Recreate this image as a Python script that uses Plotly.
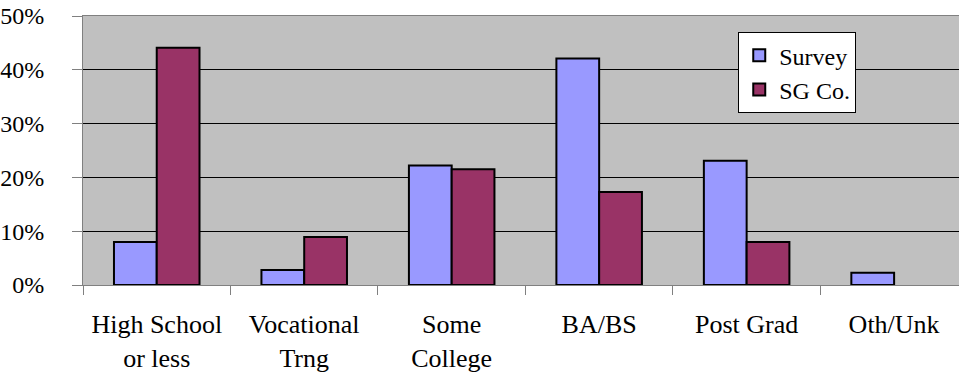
import plotly.graph_objects as go

categories = ["High School<br>or less", "Vocational<br>Trng", "Some<br>College",
              "BA/BS", "Post Grad", "Oth/Unk"]
survey = [8.0, 2.8, 22.2, 42.1, 23.1, 2.3]
sg_co = [44.1, 8.9, 21.5, 17.3, 8.0, 0.0]

serif = '"Liberation Serif", "Times New Roman", Times, serif'

# zero-height bars get no outline
survey_outline = [2 if v > 0 else 0 for v in survey]
sg_outline = [2 if v > 0 else 0 for v in sg_co]

fig = go.Figure()
fig.add_trace(go.Bar(
    name="Survey", x=categories, y=survey,
    marker=dict(color="#9999FF", line=dict(color="black", width=survey_outline)),
))
fig.add_trace(go.Bar(
    name="SG Co.", x=categories, y=sg_co,
    marker=dict(color="#993366", line=dict(color="black", width=sg_outline)),
))

fig.update_layout(
    width=959, height=375,
    margin=dict(l=80, r=0, t=16, b=90),
    paper_bgcolor="white",
    plot_bgcolor="#C0C0C0",
    barmode="group",
    bargap=0.42,
    bargroupgap=0,
    font=dict(family=serif, color="black", size=24),
    showlegend=True,
    legend=dict(
        x=0.748, y=0.94,
        bgcolor="white", bordercolor="black", borderwidth=1,
        font=dict(family=serif, size=24),
        tracegroupgap=0, itemwidth=30,
    ),
)

fig.update_xaxes(
    range=[-0.5, 5.44],
    tickson="boundaries",
    ticks="outside", ticklen=9, tickcolor="#808080",
    showline=True, linecolor="#808080", mirror=True,
    showgrid=False,
    tickfont=dict(family=serif, size=26),
    ticklabelstandoff=16,
)
fig.update_yaxes(
    range=[0, 50],
    dtick=10, ticksuffix="%",
    ticks="outside", ticklen=10, tickcolor="#808080",
    showline=True, linecolor="#808080",
    gridcolor="black",
    zeroline=False,
    tickfont=dict(family=serif, size=24),
    ticklabelstandoff=23,
)

fig.write_html("out.html")
